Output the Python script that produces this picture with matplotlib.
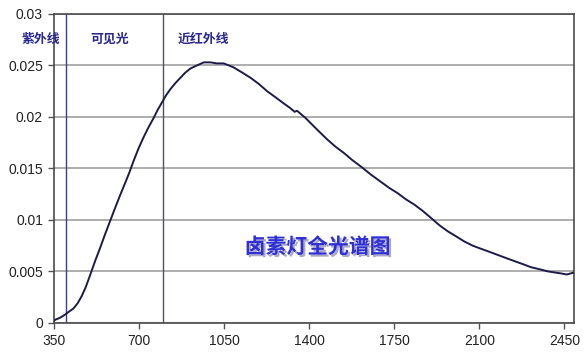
import matplotlib
matplotlib.use('Agg')
import matplotlib.pyplot as plt
import matplotlib.patheffects as pe

plt.rcParams['font.family'] = ['Liberation Sans', 'Noto Sans CJK SC', 'DejaVu Sans']

# Spectrum (wavelength nm, relative intensity)
wavelength = [350, 354, 375, 395, 412, 430, 447, 464, 481, 498, 519, 540, 560,
              581, 602, 622, 643, 660, 677, 697, 718, 739, 760, 777, 794, 811,
              829, 850, 870, 890, 911, 938, 966, 994, 1020, 1048, 1070, 1090,
              1125, 1159, 1193, 1227, 1262, 1296, 1320, 1340, 1350, 1365, 1385,
              1406, 1440, 1475, 1509, 1543, 1578, 1612, 1654, 1695, 1730, 1764,
              1798, 1832, 1866, 1901, 1935, 1970, 2005, 2039, 2073, 2107, 2142,
              2176, 2210, 2245, 2280, 2314, 2350, 2383, 2410, 2438, 2460, 2475,
              2490]
intensity = [0.0002, 0.0003, 0.0005, 0.0008, 0.0011, 0.0014, 0.0019, 0.0026,
             0.0035, 0.0046, 0.0060, 0.0073, 0.0086, 0.0099, 0.0112, 0.0124,
             0.0136, 0.0146, 0.0157, 0.0169, 0.0180, 0.0190, 0.0199, 0.0207,
             0.0214, 0.0221, 0.0227, 0.0233, 0.0238, 0.0243, 0.0247, 0.0250,
             0.0253, 0.0253, 0.0252, 0.0252, 0.0250, 0.0248, 0.0243, 0.0238,
             0.0232, 0.0225, 0.0219, 0.0213, 0.0209, 0.0205, 0.0206, 0.0203,
             0.0199, 0.0194, 0.0186, 0.0178, 0.0171, 0.0165, 0.0158, 0.0152,
             0.0144, 0.0137, 0.0131, 0.0126, 0.0120, 0.0115, 0.0109, 0.0102,
             0.0095, 0.0089, 0.0084, 0.0079, 0.0075, 0.0072, 0.0069, 0.0066,
             0.0063, 0.0060, 0.0057, 0.0054, 0.0052, 0.0050, 0.0049, 0.0048,
             0.0047, 0.0048, 0.0049]

band_edges = [400, 798]
band_labels = ['紫外线', '可见光', '近红外线']
band_label_x = [217, 498, 857]
x_ticks = [350, 700, 1050, 1400, 1750, 2100, 2450]
y_ticks = [0, 0.005, 0.01, 0.015, 0.02, 0.025, 0.03]
y_tick_labels = ['0', '0.005', '0.01', '0.015', '0.02', '0.025', '0.03']

fig = plt.figure(figsize=(5.87, 3.58), dpi=100)
ax = fig.add_axes([0.092, 0.098, 0.886, 0.863])

ax.plot(wavelength, intensity, color='#1c1c48', linewidth=1.4, zorder=3)

ax.axvline(band_edges[0], color='#3a3a98', linewidth=1.0, zorder=2)
ax.axvline(band_edges[1], color='#505060', linewidth=1.0, zorder=2)

ax.set_xlim(350, 2490)
ax.set_ylim(0, 0.03)
ax.set_xticks(x_ticks)
ax.set_yticks(y_ticks)
ax.set_yticklabels(y_tick_labels)
ax.tick_params(axis='both', direction='out', length=4, width=1, color='#555555',
               labelsize=10, labelcolor='#222222', pad=4)

ax.yaxis.grid(True, color='#a0a0a0', linewidth=1.2)
ax.set_axisbelow(True)
for s in ax.spines.values():
    s.set_color('#4a4a4a')
    s.set_linewidth(1.2)

# band names along the top; the first one hangs over the left spine
for lbl, xpos in zip(band_labels, band_label_x):
    ax.text(xpos, 0.0276, lbl, color='#2a2a90', fontsize=9.3, fontweight='bold',
            ha='left', va='center', clip_on=False,
            family=['Noto Sans CJK SC', 'DejaVu Sans'])

ax.text(1435, 0.0074, '卤素灯全光谱图', color='#2f2fd8', fontsize=15,
        fontweight='bold', ha='center', va='center',
        family=['Noto Sans CJK SC', 'DejaVu Sans'],
        path_effects=[pe.withSimplePatchShadow(offset=(1.5, -1.5),
                                               shadow_rgbFace='#7070a0', alpha=0.6)])

fig.savefig('out.png', dpi=100)
